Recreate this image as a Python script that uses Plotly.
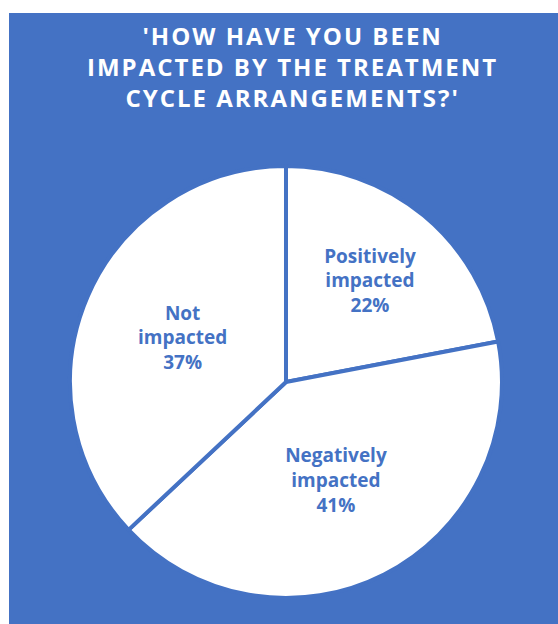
import plotly.graph_objects as go

categories = ["Positively impacted", "Negatively impacted", "Not impacted"]
label_lines = ["Positively<br>impacted", "Negatively<br>impacted", "Not<br>impacted"]
values = [22, 41, 37]
title_lines = ["'HOW HAVE YOU BEEN", "IMPACTED BY THE TREATMENT", "CYCLE ARRANGEMENTS?'"]

BLUE = "#4472C4"

fig = go.Figure(go.Pie(
    labels=categories,
    values=values,
    customdata=label_lines,
    texttemplate="%{customdata}<br>%{percent:.0%}",
    textposition="inside",
    insidetextorientation="horizontal",
    textfont=dict(family="Open Sans", size=19, color=BLUE, weight="bold"),
    marker=dict(colors=["white"] * 3, line=dict(color=BLUE, width=4)),
    sort=False,
    direction="clockwise",
    rotation=0,
    hole=0,
    showlegend=False,
    domain=dict(x=[0.1111, 0.898], y=[0.0426, 0.7496]),
))

fig.update_layout(
    width=558, height=624,
    margin=dict(l=9, t=13, r=0, b=0),
    paper_bgcolor="white",
    plot_bgcolor=BLUE,
    shapes=[dict(type="rect", xref="paper", yref="paper", x0=0, x1=1, y0=0, y1=1,
                 fillcolor=BLUE, line=dict(width=0), layer="below")],
    title=dict(
        text="<span style='letter-spacing:2px'>" + "<br>".join(title_lines) + "</span>",
        x=0.5166, xanchor="center", xref="paper",
        y=1 - 45 / 624, yanchor="top", yref="container",
        font=dict(family="Open Sans", size=24, color="white", weight="bold"),
    ),
)

fig.write_html("out.html")
